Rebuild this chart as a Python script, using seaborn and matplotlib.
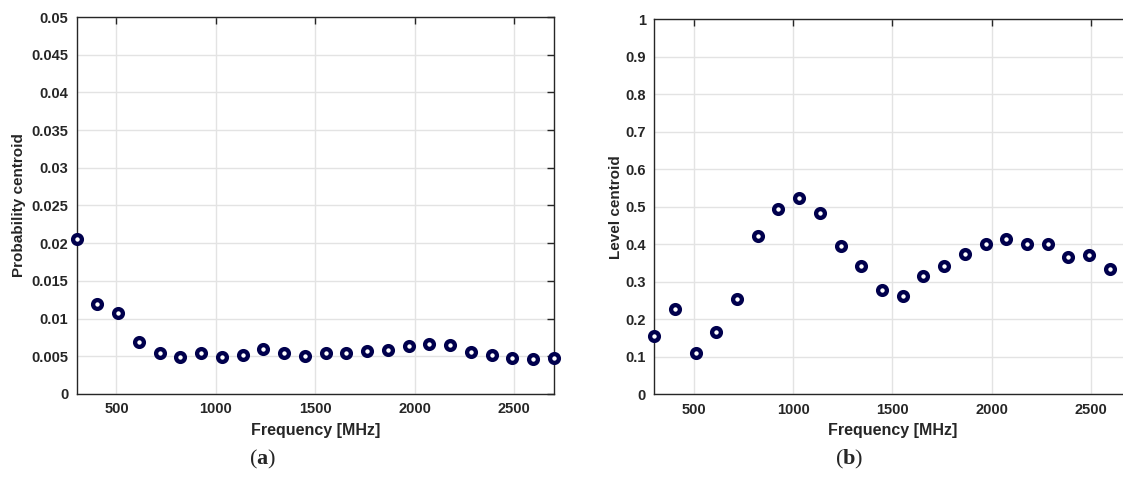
import matplotlib
matplotlib.use("Agg")
import matplotlib.pyplot as plt
import seaborn as sns
import pandas as pd
from matplotlib.ticker import FuncFormatter

# Frequencies (MHz) and centroid values
freq_a = [300, 404, 509, 613, 717, 822, 926, 1030, 1135, 1239, 1343, 1448,
          1552, 1657, 1761, 1865, 1970, 2074, 2178, 2283, 2387, 2491, 2596, 2700]
prob_centroid = [0.0205, 0.0120, 0.0107, 0.0069, 0.0054, 0.0049, 0.0054, 0.0049,
                 0.0052, 0.0060, 0.0055, 0.0051, 0.0054, 0.0055, 0.0057, 0.0058,
                 0.0063, 0.0066, 0.0065, 0.0056, 0.0052, 0.0048, 0.0046, 0.0048]

freq_b = freq_a[:23]
level_centroid = [0.155, 0.228, 0.110, 0.167, 0.255, 0.423, 0.494, 0.523, 0.482,
                  0.394, 0.341, 0.278, 0.263, 0.314, 0.341, 0.374, 0.400, 0.414,
                  0.400, 0.400, 0.365, 0.370, 0.333]

x_ticks = [500, 1000, 1500, 2000, 2500]
navy = '#00004d'
dark = '#262626'

sns.set_style('white')
plt.rcParams['font.family'] = ['Liberation Sans', 'DejaVu Sans']
plt.rcParams['mathtext.fontset'] = 'custom'
plt.rcParams['mathtext.rm'] = 'Liberation Serif'
plt.rcParams['mathtext.bf'] = 'Liberation Serif:bold'

fig = plt.figure(figsize=(11.23, 4.79), dpi=100)
# right panel runs past the figure edge, as in the original crop
ax1 = fig.add_axes([0.0683, 0.1775, 0.4248, 0.787])
ax2 = fig.add_axes([0.5826, 0.1770, 0.4240, 0.783])

df_a = pd.DataFrame({'freq': freq_a, 'val': prob_centroid})
df_b = pd.DataFrame({'freq': freq_b, 'val': level_centroid})


def style_axis(ax, ymax, ystep, ylabel, ypad):
    ax.set_xlim(300, 2700)
    ax.set_ylim(0, ymax)
    ax.set_xticks(x_ticks)
    ax.set_yticks([i * ystep for i in range(11)])
    ax.yaxis.set_major_formatter(FuncFormatter(lambda v, p: '%g' % round(v, 4)))
    ax.grid(True, color='#e3e3e3', linewidth=1.0)
    ax.set_axisbelow(True)
    ax.tick_params(direction='in', top=True, right=True, length=5, width=1,
                   color=dark, labelcolor=dark, labelsize=10.5, pad=6)
    for lab in ax.get_xticklabels() + ax.get_yticklabels():
        lab.set_fontweight('bold')
    for sp in ax.spines.values():
        sp.set_color(dark)
        sp.set_linewidth(1.0)
    ax.set_xlabel('Frequency [MHz]', fontsize=11.5, fontweight='bold', color=dark, labelpad=5)
    ax.set_ylabel(ylabel, fontsize=11, fontweight='bold', color=dark, labelpad=ypad)


sns.scatterplot(data=df_a, x='freq', y='val', ax=ax1, marker='o', s=40,
                facecolor='white', edgecolor=navy, linewidth=3.1, clip_on=False, zorder=3)
style_axis(ax1, 0.05, 0.005, 'Probability centroid', 4)

sns.scatterplot(data=df_b, x='freq', y='val', ax=ax2, marker='o', s=40,
                facecolor='white', edgecolor=navy, linewidth=3.1, clip_on=False, zorder=3)
style_axis(ax2, 1.0, 0.1, 'Level centroid', 2)

fig.text(263 / 1123, 1 - 459 / 479, r'$(\mathbf{a})$', ha='center', va='center', fontsize=16)
fig.text(849 / 1123, 1 - 459 / 479, r'$(\mathbf{b})$', ha='center', va='center', fontsize=16)

fig.savefig('out.png', dpi=100)
